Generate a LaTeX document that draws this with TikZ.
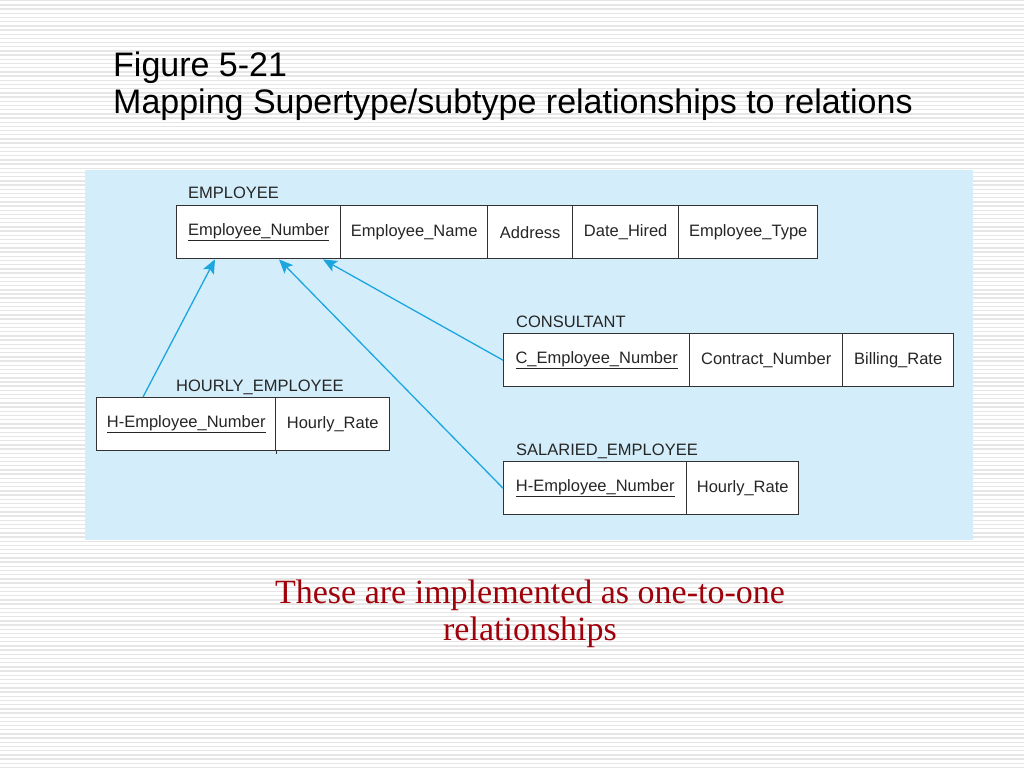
\documentclass[tikz,border=0pt]{standalone}
\usepackage{fontspec}
\setmainfont{Liberation Sans}
\newfontfamily\serifrm{Liberation Serif}
\usetikzlibrary{arrows.meta}
\definecolor{panelblue}{RGB}{211,238,250}
\definecolor{arrowblue}{RGB}{27,166,224}
\definecolor{notered}{RGB}{160,0,10}
\definecolor{stripe}{RGB}{230,230,230}
\definecolor{tableline}{RGB}{50,50,50}
\tikzset{
  cell/.style={draw=tableline, line width=1.4pt, fill=white, anchor=north west,
    minimum height=53pt, inner sep=0pt, font=\fontsize{16.5}{18}\selectfont, text=black!85},
  tlabel/.style={anchor=base west, inner sep=0pt, font=\fontsize{16.5}{18}\selectfont, text=black!85},
  arr/.style={draw=arrowblue, line width=1.3pt, -{Stealth[length=14pt,width=12pt,inset=3pt]}},
  ttl/.style={anchor=base west, inner sep=0pt, font=\fontsize{34}{40}\selectfont},
  note/.style={anchor=base, inner sep=0pt, text=notered, font=\serifrm\fontsize{34}{40}\selectfont},
}
\newcommand{\keyu}[1]{\underline{#1}}
\begin{document}
\begin{tikzpicture}[x=1pt,y=-1pt]
\useasboundingbox (0,0) rectangle (1024,768);
\fill[white] (0,0) rectangle (1024,768);
\foreach \i in {0,...,183} {
  \fill[stripe] (0,{\i*4.19}) rectangle (1024,{\i*4.19+1.4});
}
% title
\node[ttl] (t1) at (113,76) {Figure 5-21};
\node[ttl] (t2) at (113,113) {Mapping Supertype/subtype relationships to relations};
% panel
\fill[panelblue] (85,170) rectangle (973,540);
% EMPLOYEE
\node[tlabel] (le) at (188,198) {EMPLOYEE};
\node[cell, minimum width=164pt] (e1) at (176,205) {\keyu{Employee\_Number}};
\node[cell, minimum width=147pt] (e2) at (340,205) {Employee\_Name};
\node[cell, minimum width=85pt] (e3) at (487,205) {Address};
\node[cell, minimum width=106pt] (e4) at (572,205) {Date\_Hired};
\node[cell, minimum width=139pt] (e5) at (678,205) {Employee\_Type};
% CONSULTANT
\node[tlabel] (lc) at (516,327) {CONSULTANT};
\node[cell, minimum width=186pt] (c1) at (503,333) {\keyu{C\_Employee\_Number}};
\node[cell, minimum width=153pt] (c2) at (689,333) {Contract\_Number};
\node[cell, minimum width=111pt] (c3) at (842,333) {Billing\_Rate};
% HOURLY
\node[tlabel] (lh) at (176,391) {HOURLY\_EMPLOYEE};
\node[cell, minimum width=179pt] (h1) at (96,397) {\keyu{H-Employee\_Number}};
\node[cell, minimum width=114pt] (h2) at (275,397) {Hourly\_Rate};
\draw[tableline, line width=1.4pt] (h1.south east) -- ++(0,3);
% SALARIED
\node[tlabel] (ls) at (516,455) {SALARIED\_EMPLOYEE};
\node[cell, minimum width=183pt] (s1) at (503,461) {\keyu{H-Employee\_Number}};
\node[cell, minimum width=112pt] (s2) at (686,461) {Hourly\_Rate};
% arrows
\draw[arr] ([xshift=47pt]h1.north west) -- ([xshift=39pt]e1.south west);
\draw[arr] (s1.west) -- ([xshift=103pt]e1.south west);
\draw[arr] (c1.west) -- ([xshift=147pt]e1.south west);
% note
\node[note] (n1) at (530,603) {These are implemented as one-to-one};
\node[note] (n2) at (530,640) {relationships};
\end{tikzpicture}
\end{document}
